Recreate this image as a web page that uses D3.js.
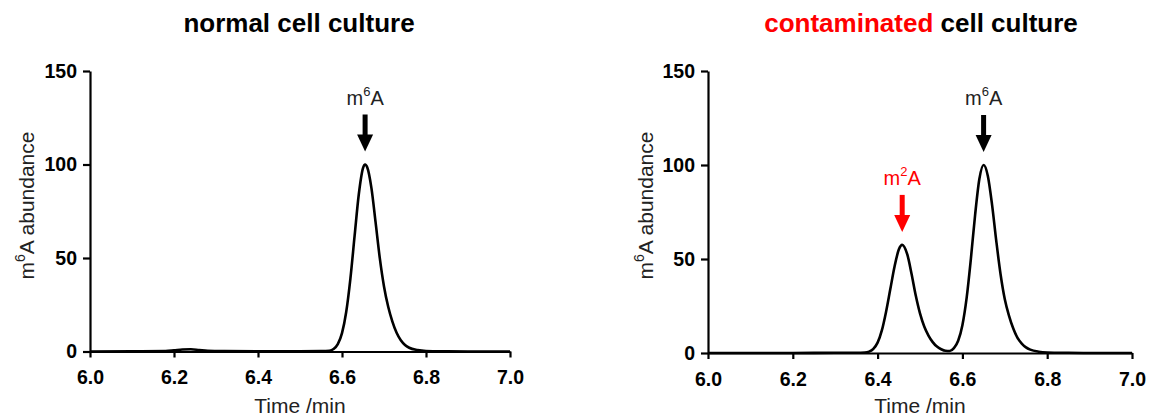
<!DOCTYPE html>
<html><head><meta charset="utf-8">
<script src="https://cdn.jsdelivr.net/npm/d3@7"></script>
<style>
body{margin:0;background:#fff}
svg{display:block}
text{font-family:"Liberation Sans",Arial,Helvetica,sans-serif}
</style>
</head><body>
<svg id="c" width="1151" height="417"></svg>
<script>
// ---- data ----
const xTicks = [6.0, 6.2, 6.4, 6.6, 6.8, 7.0];
const yTicks = [0, 50, 100, 150];

const timeNormal  = [6.00,6.10,6.18,6.20,6.22,6.24,6.26,6.28,6.32,6.40,6.50,6.55,6.57,6.58,6.59,6.60,6.61,6.62,6.63,6.64,6.65,6.655,6.66,6.67,6.68,6.69,6.70,6.71,6.72,6.73,6.74,6.75,6.76,6.78,6.80,6.85,6.90,7.00];
const abundNormal = [0,0.1,0.2,0.6,1.1,1.2,0.8,0.4,0.2,0.1,0.1,0.2,0.4,1.3,3.9,9.8,21.1,39.0,61.8,84.1,98.1,100,98.5,87.5,69,49.9,34.8,23.9,16,10,6,3.5,2,0.8,0.3,0.1,0,0];

const timeContam  = [6.00,6.10,6.20,6.30,6.35,6.37,6.38,6.39,6.40,6.41,6.42,6.43,6.44,6.45,6.458,6.47,6.48,6.49,6.50,6.51,6.52,6.53,6.54,6.55,6.56,6.57,6.58,6.59,6.60,6.61,6.62,6.63,6.64,6.65,6.66,6.67,6.68,6.69,6.70,6.71,6.72,6.73,6.74,6.75,6.76,6.78,6.80,6.85,6.90,7.00];
const abundContam = [0,0,0,0.1,0.1,0.2,0.7,2.2,5.5,12,22,34,46,55,57.5,52.4,42.2,30.6,21.1,14.1,9.3,5.8,3.4,2.0,1.2,1.1,2.6,6.5,14.8,29.3,50.1,73.5,92.6,100,94.2,78.8,59.4,41.9,28.6,19.8,13,8,5,3,1.8,0.7,0.3,0.1,0,0];

const titleNormal = [{text:"normal cell culture", color:"#000000"}];
const titleContam = [{text:"contaminated", color:"#ff0000"}, {text:" cell culture", color:"#000000"}];

const peaksNormal = [{t:6.655, v:100, sup:"6", color:"#000000"}];
const peaksContam = [{t:6.458, v:57.5, sup:"2", color:"#ff0000"}, {t:6.65, v:100, sup:"6", color:"#000000"}];

const xLabel = "Time /min";

// ---- drawing ----
const svg = d3.select("#c");

function panel(cfg){
  const g = svg.append("g");
  const x = d3.scaleLinear().domain([6.0, 7.0]).range([cfg.x0, cfg.x1]);
  const y = d3.scaleLinear().domain([0, 150]).range([cfg.y0, cfg.y1]);

  // title
  const tt = g.append("text").attr("x", (cfg.x0+cfg.x1)/2 + cfg.titleDx).attr("y", 32)
    .attr("text-anchor","middle").attr("font-weight","bold").attr("font-size", 26);
  cfg.title.forEach(p => tt.append("tspan").attr("fill", p.color).text(p.text));

  // data line
  const pts = cfg.times.map((t,i)=>[t, cfg.vals[i]]);
  g.append("path").datum(pts)
    .attr("fill","none").attr("stroke","#000").attr("stroke-width",2.6)
    .attr("stroke-linejoin","round")
    .attr("d", d3.line().x(d=>x(d[0])).y(d=>y(d[1])).curve(d3.curveMonotoneX));

  // x axis
  const xa = g.append("g").attr("transform",`translate(0,${cfg.y0})`)
    .call(d3.axisBottom(x).tickValues(xTicks).tickFormat(d3.format(".1f"))
      .tickSize(6).tickSizeOuter(0).tickPadding(13));
  // y axis
  const ya = g.append("g").attr("transform",`translate(${cfg.x0},0)`)
    .call(d3.axisLeft(y).tickValues(yTicks).tickSize(7).tickSizeOuter(0).tickPadding(6));
  [xa, ya].forEach(a=>{
    a.select(".domain").attr("stroke","#000").attr("stroke-width",2.2);
    a.selectAll(".tick line").attr("stroke","#000").attr("stroke-width",2.2);
    a.selectAll(".tick text").attr("fill","#000").attr("font-weight","bold")
      .attr("font-size",19.5).attr("font-family",'"Liberation Sans",Arial,sans-serif');
  });

  // axis titles
  g.append("text").attr("x",(cfg.x0+cfg.x1)/2).attr("y",413)
    .attr("text-anchor","middle").attr("font-size",21).attr("fill","#222").text(xLabel);
  const yl = g.append("text").attr("transform",`translate(${cfg.ylx},205.5) rotate(-90)`)
    .attr("text-anchor","middle").attr("font-size",21).attr("fill","#222");
  yl.append("tspan").text("m");
  yl.append("tspan").attr("font-size",14).attr("dy",-9).text("6");
  yl.append("tspan").attr("dy",9).text("A abundance");

  // peak annotations
  cfg.peaks.forEach(p=>{
    const px = x(p.t), tip = y(p.v) - 13, top = tip - 37, headH = 17, headW = 8;
    g.append("rect").attr("x",px-2.5).attr("y",top).attr("width",5).attr("height",tip-headH-top+1)
      .attr("fill",p.color);
    g.append("path").attr("d",`M${px-headW},${tip-headH}L${px+headW},${tip-headH}L${px},${tip}Z`)
      .attr("fill",p.color);
    const t = g.append("text").attr("x",px).attr("y",top-10).attr("text-anchor","middle")
      .attr("font-size",20).attr("fill",p.color === "#000000" ? "#222" : p.color);
    t.append("tspan").text("m");
    t.append("tspan").attr("font-size",13).attr("dy",-9).text(p.sup);
    t.append("tspan").attr("dy",9).text("A");
  });
}

panel({x0:90, x1:510, y0:351.5, y1:71, titleDx:-1, ylx:34,
       times:timeNormal, vals:abundNormal, title:titleNormal, peaks:peaksNormal});
panel({x0:708, x1:1132, y0:353, y1:71, titleDx:1, ylx:653,
       times:timeContam, vals:abundContam, title:titleContam, peaks:peaksContam});
</script>
</body></html>
